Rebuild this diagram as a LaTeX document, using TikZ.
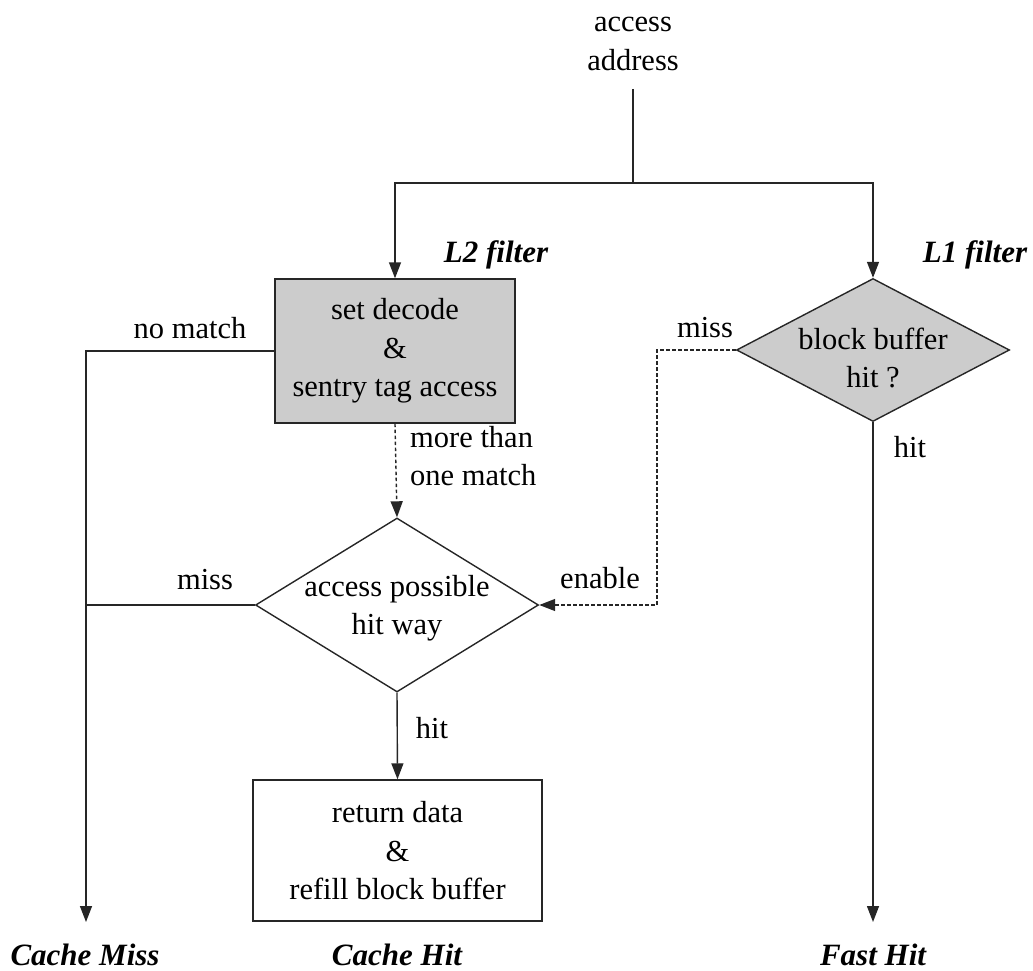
\documentclass[tikz,border=0pt]{standalone}
\usepackage{fontspec}
\setmainfont{Liberation Serif}
\usetikzlibrary{shapes.geometric,arrows.meta}
\begin{document}
\begin{tikzpicture}[x=1pt,y=-1pt,
  every node/.style={font=\fontsize{30.5}{38.5}\selectfont, inner sep=0pt},
  lbl/.style={align=center},
  title/.style={font=\fontsize{31}{38}\selectfont\bfseries\itshape},
  line/.style={line width=1.4pt, draw=black!85},
  arr/.style={line, -{Triangle[length=16pt,width=12pt]}},
  proc/.style={draw=black!85, line width=1.4pt, rectangle},
  dia/.style={draw=black!85, line width=1.4pt, diamond, inner sep=0pt}
]
\useasboundingbox (0,0) rectangle (1033,971);

% nodes
\node[lbl] (addr) at (633,44) {access\\address};
\coordinate (top) at (633,89);
\coordinate (split) at (633,183);

\node[proc, fill=black!20, minimum width=240pt, minimum height=144pt] (b1) at (395,351) {};
\node[lbl] (b1t) at (b1) {set decode\\\&\\sentry tag access};

\node[dia, fill=black!20, minimum width=273pt, minimum height=143pt] (d1) at (873,350) {};
\node[lbl] (d1t) at (873,358) {block buffer\\hit ?};

\node[dia, minimum width=283pt, minimum height=174pt] (d2) at (397,605) {};
\node[lbl] (d2t) at (397,608) {access possible\\hit way};

\node[proc, minimum width=289pt, minimum height=141pt] (b2) at (397.5,850.5) {};
\node[lbl] (b2t) at (397.5,851) {return data\\\&\\refill block buffer};

\coordinate (missend) at (86,922);
\coordinate (fastend) at (873,922);

% labels
\node[title] (l2) at (496,255) {L2 filter};
\node[title] (l1) at (975,255) {L1 filter};
\node (nomatch) at (190,328) {no match};
\node (miss1) at (705,328) {miss};
\node (hit1) at (910,447) {hit};
\node[align=left, anchor=west] (more) at (410,456) {more than\\one match};
\node (miss2) at (205,580) {miss};
\node (enable) at (600,578) {enable};
\node (hit2) at (432,728) {hit};
\node[title] (cmiss) at (85,955) {Cache Miss};
\node[title] (chit) at (397,955) {Cache Hit};
\node[title] (fhit) at (873,955) {Fast Hit};

% connectors
\draw[line] (top) -- (split);
\draw[arr] (split) -| (b1.north);
\draw[arr] (split) -| (d1.north);
\draw[arr] (b1.west) -| (missend);
\draw[line] (d2.west) -- (d2.west -| missend);
\draw[arr, dash pattern=on 3.5pt off 2.5pt] (b1.south) -- (d2.north);
\draw[arr, dash pattern=on 3.5pt off 2.5pt] (d1.west) -- ++(-79,0) |- (d2.east);
\draw[arr] (d2.south) -- (b2.north);
\draw[arr] (d1.south) -- (fastend);
\end{tikzpicture}
\end{document}
